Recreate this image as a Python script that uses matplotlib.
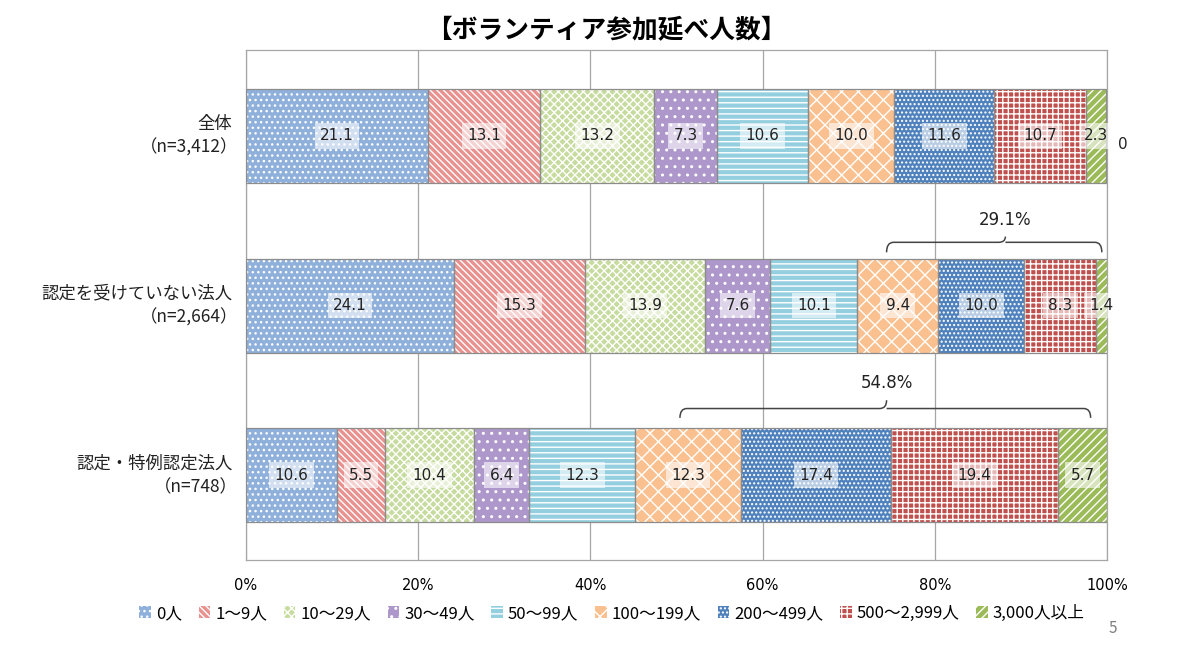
import matplotlib
matplotlib.use("Agg")
import matplotlib.pyplot as plt
from matplotlib.path import Path
from matplotlib.patches import PathPatch, Patch
import numpy as np

plt.rcParams['font.family'] = ['Noto Sans CJK JP', 'DejaVu Sans']
plt.rcParams['hatch.linewidth'] = 1.0

# data
groups = ["全体", "認定を受けていない法人", "認定・特例認定法人"]
group_n = ["（n=3,412）", "（n=2,664）", "（n=748）"]
categories = ["0人", "1～9人", "10～29人", "30～49人", "50～99人",
              "100～199人", "200～499人", "500～2,999人", "3,000人以上"]
zentai = [21.1, 13.1, 13.2, 7.3, 10.6, 10.0, 11.6, 10.7, 2.3]
mininte = [24.1, 15.3, 13.9, 7.6, 10.1, 9.4, 10.0, 8.3, 1.4]
nintei = [10.6, 5.5, 10.4, 6.4, 12.3, 12.3, 17.4, 19.4, 5.7]
no_answer = [0]  # only shown for 全体
brace_labels = ["29.1%", "54.8%"]
brace_rows = [1, 2]
brace_spans = [(74.4, 99.4, 88.2), (50.4, 98.1, 74.4)]

colors = ["#8EB0DA", "#E8918F", "#C6DB9E", "#AE98CB", "#93CFDF",
          "#FAC08F", "#4F81BD", "#C0504D", "#9BBB59"]
hatches = ["...", "\\\\\\\\\\", "xxxx", "..", "---", "xx", "....", "+++", "////"]

values = np.array([zentai, mininte, nintei])

fig = plt.figure(figsize=(12, 6.45), dpi=100)
ax = fig.add_axes([0.205, 0.1318, 0.7175, 0.7907])

ypos = np.arange(len(groups))
left = np.zeros(len(groups))
for i, cat in enumerate(categories):
    w = values[:, i]
    ax.barh(ypos, w, left=left, height=0.555, color=colors[i],
            edgecolor="white", linewidth=0, hatch=hatches[i], zorder=2)
    ax.barh(ypos, w, left=left, height=0.555, fill=False,
            edgecolor="#8C8C8C", linewidth=0.9, zorder=3)
    for r in range(len(groups)):
        ax.text(left[r] + w[r] / 2, ypos[r], f"{w[r]:.1f}", ha="center",
                va="center", fontsize=11, color="#222222", zorder=5,
                family=["DejaVu Sans"],
                bbox=dict(boxstyle="square,pad=0.35", fc="white",
                          ec="none", alpha=0.6))
    left += w

ax.text(101.3, 0.05, str(no_answer[0]), ha="left", va="center", fontsize=11,
        family=["DejaVu Sans"], color="#222222")

# braces
for lab, row, (x0, x1, xm) in zip(brace_labels, brace_rows, brace_spans):
    if row == 1:
        y_end, y_line, y_peak, y_txt = -0.314, -0.373, -0.407, -0.507
    else:
        y_end, y_line, y_peak, y_txt = -0.338, -0.393, -0.442, -0.543
    yl = row + y_line
    ye = row + y_end
    yp = row + y_peak
    d = 0.8
    verts = [(x0, ye), (x0, yl), (x0 + d, yl), (xm - d, yl),
             (xm, yl), (xm, yp),
             (xm, yl), (xm + d, yl), (x1 - d, yl),
             (x1, yl), (x1, ye)]
    codes = [Path.MOVETO, Path.CURVE3, Path.CURVE3, Path.LINETO,
             Path.CURVE3, Path.CURVE3,
             Path.MOVETO, Path.LINETO, Path.LINETO,
             Path.CURVE3, Path.CURVE3]
    ax.add_patch(PathPatch(Path(verts, codes), fill=False, ec="#444444",
                           lw=1.1, zorder=4, clip_on=False))
    ax.text(xm, row + y_txt, lab, ha="center", va="center", fontsize=12,
            family=["DejaVu Sans"], color="#222222")

ax.set_xlim(0, 100)
ax.set_ylim(2.5, -0.507)
ax.set_xticks(np.arange(0, 101, 20))
ax.set_xticklabels([f"{t}%" for t in range(0, 101, 20)], fontsize=10.5,
                   family=["DejaVu Sans"])
ax.tick_params(axis="x", length=0, pad=13)
ax.set_yticks([])
ax.grid(axis="x", color="#A6A6A6", linewidth=0.9, zorder=0)
ax.set_axisbelow(True)
for s in ax.spines.values():
    s.set_color("#A6A6A6")
    s.set_linewidth(0.9)

# group labels
for r, (g, n) in enumerate(zip(groups, group_n)):
    ax.text(-1.6, r - 0.07, g, ha="right", va="center", fontsize=12.5,
            color="#222222")
    ax.text(-0.9, r + 0.07, n, ha="right", va="center", fontsize=12.5,
            color="#222222")

fig.text(0.505, 0.952, "【ボランティア参加延べ人数】", ha="center", va="center",
         fontsize=18.5, fontweight="bold")

handles = [Patch(facecolor=colors[i], edgecolor="white", hatch=hatches[i],
                 linewidth=0) for i in range(len(categories))]
fig.legend(handles, categories, loc="center", bbox_to_anchor=(0.51, 0.049),
           ncol=9, frameon=False, fontsize=12, handlelength=0.7,
           handleheight=0.7, handletextpad=0.3, columnspacing=1.0)

fig.text(0.927, 0.026, "5", ha="center", va="center", fontsize=11,
         color="#7F7F7F")

fig.savefig("out.png", dpi=100)
